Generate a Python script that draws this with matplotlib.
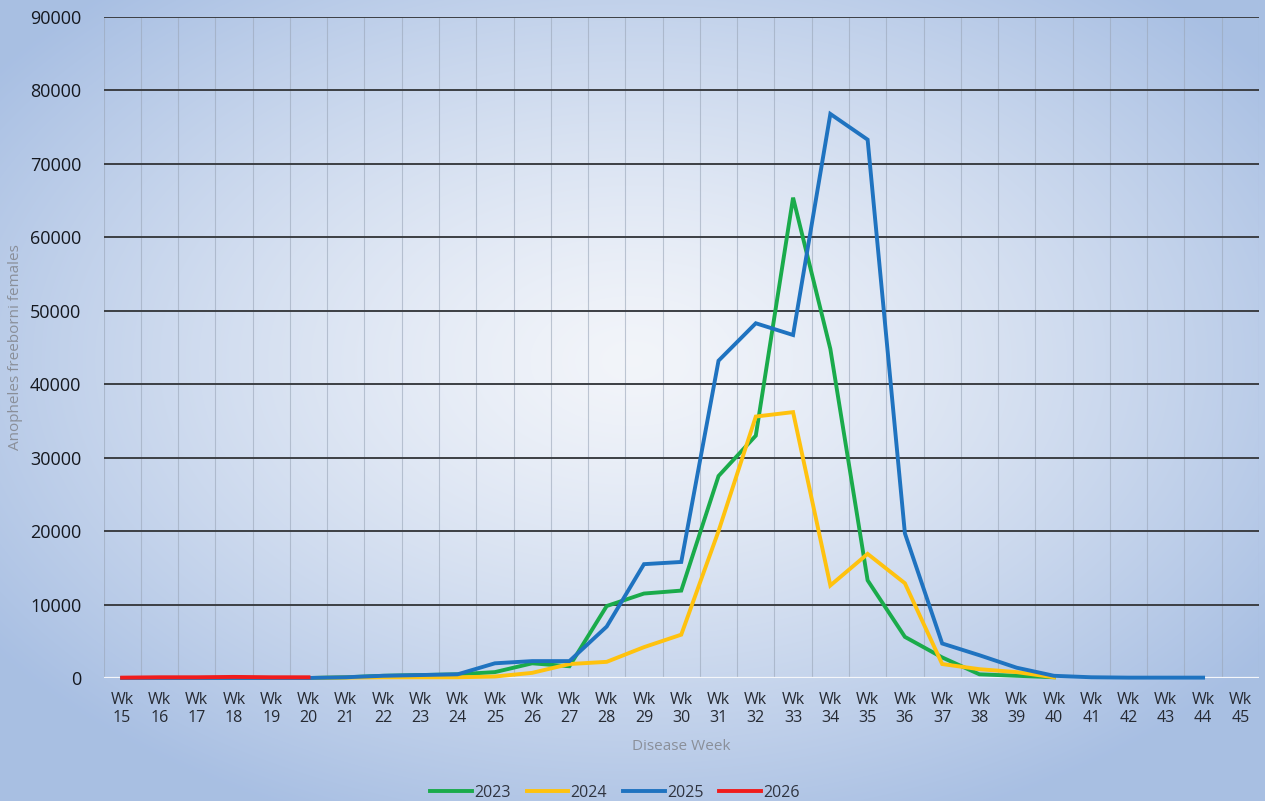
import numpy as np
import matplotlib
matplotlib.use("Agg")
import matplotlib.pyplot as plt

plt.rcParams['font.family'] = ['Open Sans', 'DejaVu Sans']

weeks = [f"Wk\n{w}" for w in range(15, 46)]

y2023 = [0, 0, 0, 0, 0, 0, 100, 300, 400, 500, 800, 2000, 1600, 9800, 11500, 11900,
         27500, 33000, 65400, 44800, 13300, 5600, 2800, 500, 300, 100]
y2024 = [0, 0, 0, 0, 0, 0, 50, 100, 100, 100, 200, 700, 1900, 2200, 4200, 5900,
         20000, 35600, 36200, 12600, 16900, 12900, 1900, 1200, 800, 100]
y2025 = [0, 0, 0, 0, 0, 0, 100, 300, 400, 500, 2000, 2300, 2300, 7000, 15500, 15800,
         43200, 48300, 46700, 76800, 73300, 19700, 4700, 3100, 1400, 300, 100, 50, 50, 50]
y2026 = [50, 100, 100, 150, 100, 100]

series = [("2023", y2023, "#1aab4b"), ("2024", y2024, "#ffc20e"),
          ("2025", y2025, "#1f73c0"), ("2026", y2026, "#f01c1c")]

W, H = 1265, 801
fig = plt.figure(figsize=(W / 100, H / 100), dpi=100)

# background radial gradient
bg = fig.add_axes([0, 0, 1, 1], zorder=-10)
yy, xx = np.mgrid[0:H, 0:W]
cx, cy = 0.5 * W, 0.45 * H
r = np.sqrt(((xx - cx) / (0.62 * W)) ** 2 + ((yy - cy) / (0.62 * H)) ** 2)
r = np.clip(r, 0, 1) ** 1.3
c_in = np.array([0.95, 0.96, 0.98])
c_out = np.array([0.66, 0.75, 0.89])
img = c_in[None, None, :] * (1 - r[..., None]) + c_out[None, None, :] * r[..., None]
bg.imshow(img, aspect="auto", extent=[0, 1, 0, 1], origin="upper")
bg.axis("off")

ax = fig.add_axes([103.5 / W, 1 - 678 / H, (1259 - 103.5) / W, (678 - 17) / H])
ax.patch.set_alpha(0)
n = len(weeks)
ax.set_xlim(-0.5, n - 0.5)
ax.set_ylim(0, 90000)

# grid
for b in np.arange(-0.5, n, 1.0):
    ax.plot([b, b], [0, 90000], color="#9aa6b8", lw=0.8, alpha=0.6, zorder=1)
for yv in range(10000, 90001, 10000):
    ax.axhline(yv, color="#3c3f44", lw=1.4, zorder=1)
ax.axhline(0, color="#f4f6fa", lw=1.6, zorder=1)

handles = []
for i, (name, vals, col) in enumerate(series):
    h, = ax.plot(np.arange(len(vals)), vals, color=col, lw=2.8, label=name, zorder=3 + i,
                 solid_joinstyle="miter", clip_on=False)
    handles.append(h)

for s in ax.spines.values():
    s.set_visible(False)
ax.set_xticks(np.arange(n))
ax.set_xticklabels(weeks, fontsize=11.5, color="#262a33", linespacing=1.2)
ax.set_yticks(range(0, 90001, 10000))
ax.set_yticklabels([str(v) for v in range(0, 90001, 10000)], fontsize=13, color="#15181f")
ax.tick_params(axis="x", length=0, pad=10)
ax.tick_params(axis="y", length=0, pad=16)
ax.set_xlabel("Disease Week", fontsize=11, color="#8a8f99", labelpad=9)
ax.set_ylabel("Anopheles freeborni females", fontsize=11, color="#8a8f99")
ax.yaxis.set_label_coords(-0.070, 0.50)

fig.legend(handles=handles, loc="center", bbox_to_anchor=(615 / W, 1 - 793 / H), ncol=4,
           frameon=False, fontsize=11.5, handlelength=2.6, handletextpad=0.15,
           columnspacing=1.0, labelcolor="#2f3440")

fig.savefig("out.png", dpi=100)
